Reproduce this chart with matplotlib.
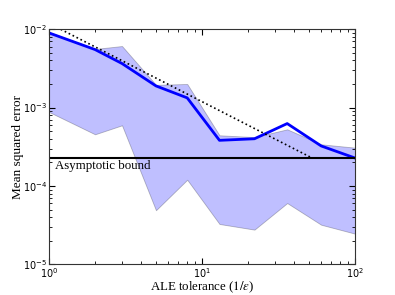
import matplotlib
matplotlib.use('Agg')
import matplotlib.pyplot as plt
import numpy as np

# ALE tolerance values (1/eps)
tol = [1, 2, 3, 5, 8, 13, 22, 36, 60, 100]
# mean squared error (mean and spread)
mse_mean = [8.97e-3, 5.5e-3, 3.65e-3, 1.89e-3, 1.33e-3, 3.82e-4, 4.0e-4, 6.25e-4, 3.24e-4, 2.27e-4]
mse_hi = [9.2e-3, 5.6e-3, 6.1e-3, 1.95e-3, 2.0e-3, 4.43e-4, 4.2e-4, 5.28e-4, 3.4e-4, 3.08e-4]
mse_lo = [8.8e-4, 4.56e-4, 5.94e-4, 4.9e-5, 1.2e-4, 3.27e-5, 2.77e-5, 6.05e-5, 3.2e-5, 2.46e-5]
bound = 2.27e-4
rate_c = 0.0119  # C/eps reference line

plt.rcParams['font.family'] = ['Liberation Serif', 'DejaVu Serif']
plt.rcParams['mathtext.fontset'] = 'dejavusans'

fig = plt.figure(figsize=(3.95, 2.95), dpi=100)
ax = fig.add_axes([0.124, 0.104, 0.775, 0.797])

ax.fill_between(tol, mse_lo, mse_hi, facecolor='b', edgecolor='k', alpha=0.25, lw=0.6)
ax.plot(tol, mse_mean, color='b', lw=2)
ax.axhline(bound, color='k', lw=1.5)
xr = np.array([1, rate_c / bound])
ax.plot(xr, rate_c / xr, 'k:', lw=1.2)
ax.text(1.1, 2.12e-4, 'Asymptotic bound', va='top', ha='left', fontsize=9.3)

ax.set_xscale('log')
ax.set_yscale('log')
ax.set_xlim(1, 100)
ax.set_ylim(1e-5, 1e-2)
ax.set_xlabel(r'ALE tolerance ($1/\epsilon$)', fontsize=9.3, math_fontfamily='stix')
ax.xaxis.set_label_coords(0.5, -0.064)
ax.set_ylabel('Mean squared error', fontsize=9.5)
ax.yaxis.set_label_coords(-0.082, 0.5)

ax.tick_params(which='both', direction='in', top=True, right=True, labelsize=7)
ax.tick_params(which='major', length=4, pad=1.5)
ax.tick_params(which='minor', length=2)
for lab in ax.get_xticklabels() + ax.get_yticklabels():
    lab.set_fontfamily('DejaVu Sans')
for s in ax.spines.values():
    s.set_color('#333333')

fig.savefig('out.png', dpi=100)
